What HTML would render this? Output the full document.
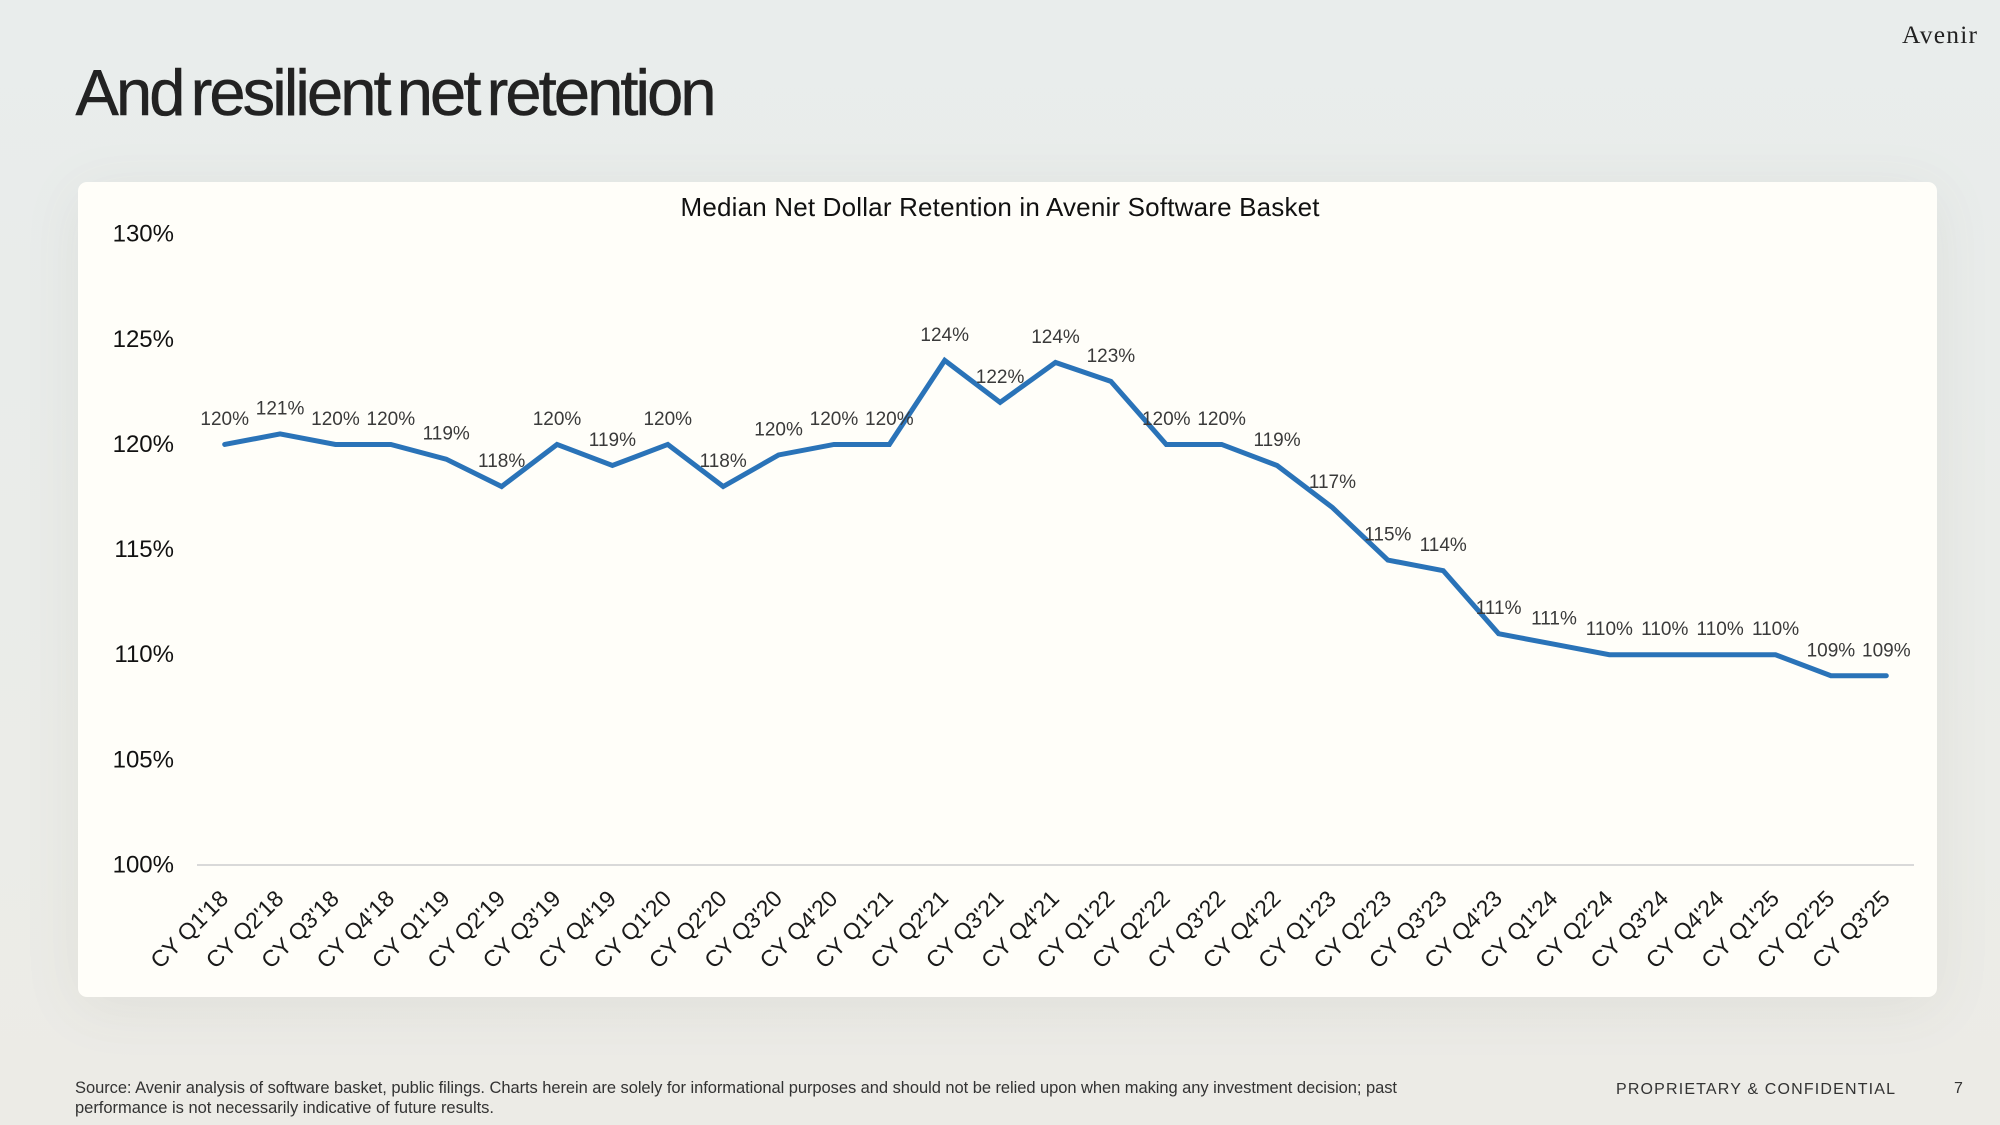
<!DOCTYPE html>
<html lang="en">
<head>
<meta charset="utf-8">
<title>And resilient net retention</title>
<style>
  html, body { margin: 0; padding: 0; }
  body { width: 2000px; height: 1125px; overflow: hidden; position: relative;
         background: linear-gradient(180deg, #e9edec 0%, #e9ecea 30%, #ebecE8 70%, #ecebe6 100%);
         font-family: "Liberation Sans", sans-serif; }
  svg { position: absolute; left: 0; top: 0; }
  #card { position: absolute; left: 78px; top: 182px; width: 1859px; height: 815px;
          background: #fffef9; border-radius: 9px; box-shadow: 0 10px 60px rgba(90,88,70,.08); }
</style>
</head>
<body>
<div id="card"></div>
<svg id="slide-svg" width="2000" height="1125" viewBox="0 0 2000 1125" xmlns="http://www.w3.org/2000/svg">
  <text x="75.5" y="115" font-family="Liberation Sans" font-size="65" fill="#222222" stroke="#222222" stroke-width="0.5" word-spacing="-7" textLength="641" lengthAdjust="spacing">And resilient net retention</text>
  <text x="1902" y="43" font-family="Liberation Serif" font-size="25.5" fill="#222222" textLength="75" lengthAdjust="spacing">Avenir</text>
  <text x="1000" y="216" text-anchor="middle" font-family="Liberation Sans" font-size="26" fill="#111111" textLength="639" lengthAdjust="spacing">Median Net Dollar Retention in Avenir Software Basket</text>
  <text x="75" y="1093" font-family="Liberation Sans" font-size="16.5" fill="#333333" textLength="1322" lengthAdjust="spacing">Source: Avenir analysis of software basket, public filings. Charts herein are solely for informational purposes and should not be relied upon when making any investment decision; past</text>
  <text x="75" y="1113" font-family="Liberation Sans" font-size="16.5" fill="#333333" textLength="419" lengthAdjust="spacing">performance is not necessarily indicative of future results.</text>
  <text x="1616" y="1094" font-family="Liberation Sans" font-size="16" fill="#333333" textLength="279" lengthAdjust="spacing">PROPRIETARY &amp; CONFIDENTIAL</text>
  <text x="1954" y="1093" font-family="Liberation Sans" font-size="16" fill="#333333">7</text>
  <g id="chart"></g>
</svg>
<script>
const categories = ["CY Q1'18","CY Q2'18","CY Q3'18","CY Q4'18","CY Q1'19","CY Q2'19","CY Q3'19","CY Q4'19","CY Q1'20","CY Q2'20","CY Q3'20","CY Q4'20","CY Q1'21","CY Q2'21","CY Q3'21","CY Q4'21","CY Q1'22","CY Q2'22","CY Q3'22","CY Q4'22","CY Q1'23","CY Q2'23","CY Q3'23","CY Q4'23","CY Q1'24","CY Q2'24","CY Q3'24","CY Q4'24","CY Q1'25","CY Q2'25","CY Q3'25"];
const retentionValues = [120,120.5,120,120,119.3,118,120,119,120,118,119.5,120,120,124,122,123.9,123,120,120,119,117,114.5,114,111,110.5,110,110,110,110,109,109];
const yTicks = [100,105,110,115,120,125,130];

const plotLeft = 197, plotRight = 1914, plotBottom = 865, plotTop = 234.2;
const yMin = 100, yMax = 130;
const NS = 'http://www.w3.org/2000/svg';
const chart = document.getElementById('chart');

function xScale(i) {
  return plotLeft + (plotRight - plotLeft) * (i + 0.5) / categories.length;
}
function yScale(v) {
  return plotBottom - (plotBottom - plotTop) * (v - yMin) / (yMax - yMin);
}
function svgEl(tag, attrs, text) {
  const el = document.createElementNS(NS, tag);
  for (const k in attrs) el.setAttribute(k, attrs[k]);
  if (text !== undefined) el.textContent = text;
  chart.appendChild(el);
  return el;
}

const axisLine = svgEl('line', { x1: plotLeft, x2: plotRight, y1: plotBottom, y2: plotBottom, stroke: '#d9d9d9', 'stroke-width': 2 });



yTicks.forEach(function (t) {
  const tick = svgEl('text', { x: 174, y: yScale(t) + 7.5, 'text-anchor': 'end', 'font-family': 'Liberation Sans', 'font-size': 24, fill: '#111111' }, t + '%');
  
  
});

categories.forEach(function (c, i) {
  const px = xScale(i) + 5, py = 900;
  const label = svgEl('text', { x: px, y: py, 'text-anchor': 'end', transform: 'rotate(-45 ' + px + ' ' + py + ')', 'font-family': 'Liberation Sans', 'font-size': 23, fill: '#1a1a1a' }, c);
  
  
});

const points = retentionValues.map(function (v, i) { return xScale(i) + ',' + yScale(v); }).join(' ');
const line = svgEl('polyline', { points: points, fill: 'none', stroke: '#2a73b8', 'stroke-width': 5, 'stroke-linejoin': 'miter', 'stroke-linecap': 'round' });



retentionValues.forEach(function (v, i) {
  const valueLabel = svgEl('text', { x: xScale(i), y: yScale(v) - 19.5, 'text-anchor': 'middle', 'font-family': 'Liberation Sans', 'font-size': 19, fill: '#3a3a3a' }, Math.round(v) + '%');
  
  
});
</script>
</body>
</html>
